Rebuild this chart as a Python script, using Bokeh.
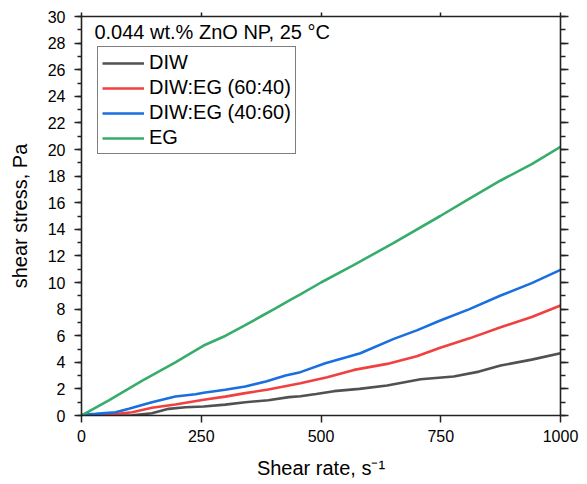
from bokeh.plotting import figure
from bokeh.models import (LinearAxis, SingleIntervalTicker, Range1d, Legend, LegendItem,
                          Label, CustomJSTickFormatter)
from bokeh.embed import file_html
from bokeh.resources import INLINE

FONT = "Liberation Sans"

# ---- data ----
diw_x = [0, 60, 106, 147, 182, 217, 255, 300, 342, 390, 433, 457, 490, 527, 580, 638, 708, 777, 830, 875, 940, 1000]
diw_y = [0, 0.0, 0.02, 0.17, 0.5, 0.62, 0.68, 0.82, 1.0, 1.15, 1.38, 1.45, 1.62, 1.83, 2.0, 2.26, 2.73, 2.93, 3.3, 3.76, 4.2, 4.68]

r6040_x = [0, 57, 106, 147, 196, 255, 300, 342, 390, 433, 457, 513, 569, 638, 700, 749, 810, 875, 940, 1000]
r6040_y = [0, 0.05, 0.25, 0.58, 0.83, 1.18, 1.42, 1.68, 1.95, 2.26, 2.43, 2.88, 3.43, 3.88, 4.45, 5.09, 5.8, 6.64, 7.4, 8.27]

r4060_x = [0, 29, 71, 99, 147, 196, 238, 255, 300, 342, 385, 426, 457, 509, 555, 582, 652, 700, 749, 810, 875, 940, 1000]
r4060_y = [0.05, 0.12, 0.25, 0.5, 1.0, 1.43, 1.6, 1.71, 1.93, 2.18, 2.55, 3.0, 3.26, 3.93, 4.39, 4.68, 5.76, 6.4, 7.14, 8.0, 9.02, 9.95, 10.95]

eg_x = [0, 57, 127, 196, 238, 255, 301, 340, 377, 405, 436, 457, 500, 568, 650, 749, 810, 875, 940, 1000]
eg_y = [0, 1.13, 2.63, 4.0, 4.89, 5.26, 6.0, 6.75, 7.5, 8.05, 8.7, 9.1, 10.0, 11.3, 12.95, 15.0, 16.3, 17.67, 18.9, 20.2]

series_names = ["DIW", "DIW:EG (60:40)", "DIW:EG (40:60)", "EG"]
series_colors = ["#515151", "#F14040", "#1A6FDF", "#37AD6B"]

x_ticks_interval = 250
y_ticks_interval = 2
annotation_text = "0.044 wt.% ZnO NP, 25 \u00b0C"
x_label = "Shear rate, s\u207b\u00b9"
y_label = "shear stress, Pa"

p = figure(width=587, height=484, output_backend="svg", toolbar_location=None,
           x_range=Range1d(0, 1000), y_range=Range1d(0, 30),
           min_border_left=81, min_border_right=27, min_border_top=16, min_border_bottom=69)
p.xgrid.visible = False
p.ygrid.visible = False
p.outline_line_color = None
p.background_fill_color = "white"
p.border_fill_color = "white"

def style_axis(ax, tick_out=7, minor_out=4):
    ax.axis_line_width = 1.6
    ax.axis_line_color = "#222222"
    ax.major_tick_line_width = 1.5
    ax.minor_tick_line_width = 1.5
    ax.major_tick_line_color = "#222222"
    ax.minor_tick_line_color = "#222222"
    ax.major_tick_in = 0
    ax.major_tick_out = tick_out
    ax.minor_tick_in = 0
    ax.minor_tick_out = minor_out
    ax.major_label_text_font = FONT
    ax.major_label_text_font_size = "16px"
    ax.major_label_text_color = "black"
    ax.axis_label_text_font = FONT
    ax.axis_label_text_font_size = "20px"
    ax.axis_label_text_font_style = "normal"
    ax.axis_label_text_color = "black"

# bottom x axis
xa = p.xaxis[0]
xa.ticker = SingleIntervalTicker(interval=x_ticks_interval, num_minor_ticks=0)
style_axis(xa)
xa.minor_tick_line_color = None
xa.axis_label = x_label
xa.major_label_standoff = 7
xa.axis_label_standoff = 12

# left y axis
ya = p.yaxis[0]
ya.ticker = SingleIntervalTicker(interval=y_ticks_interval, num_minor_ticks=2)
style_axis(ya)
ya.axis_label = y_label
ya.major_label_standoff = 9
ya.axis_label_standoff = 14

empty = CustomJSTickFormatter(code="return '';")

# top axis
ta = LinearAxis(ticker=SingleIntervalTicker(interval=x_ticks_interval, num_minor_ticks=0), formatter=empty)
style_axis(ta, tick_out=4)
ta.minor_tick_line_color = None
ta.major_label_standoff = 0
p.add_layout(ta, "above")

# right axis
ra = LinearAxis(ticker=SingleIntervalTicker(interval=y_ticks_interval, num_minor_ticks=2), formatter=empty)
style_axis(ra, tick_out=8, minor_out=5)
ra.major_label_standoff = 0
p.add_layout(ra, "right")

xs = [diw_x, r6040_x, r4060_x, eg_x]
ys = [diw_y, r6040_y, r4060_y, eg_y]
items = []
for name, col, x, y in zip(series_names, series_colors, xs, ys):
    r = p.line(x, y, line_color=col, line_width=2.6)
    items.append(LegendItem(label=name, renderers=[r]))

legend = Legend(items=items, location=(16, 261))
legend.label_text_font = FONT
legend.label_text_font_size = "20px"
legend.label_text_color = "black"
legend.glyph_width = 42
legend.glyph_height = 22
legend.label_height = 22
legend.spacing = 2
legend.padding = 4
legend.margin = 0
legend.label_standoff = 5
legend.border_line_color = "black"
legend.border_line_width = 1
legend.background_fill_alpha = 1
p.add_layout(legend)

ann = Label(x=27, y=28.8, text=annotation_text, text_font=FONT, text_font_size="20px",
            text_color="black", text_baseline="middle")
p.add_layout(ann)

open("out.html", "w").write(file_html(p, INLINE))
